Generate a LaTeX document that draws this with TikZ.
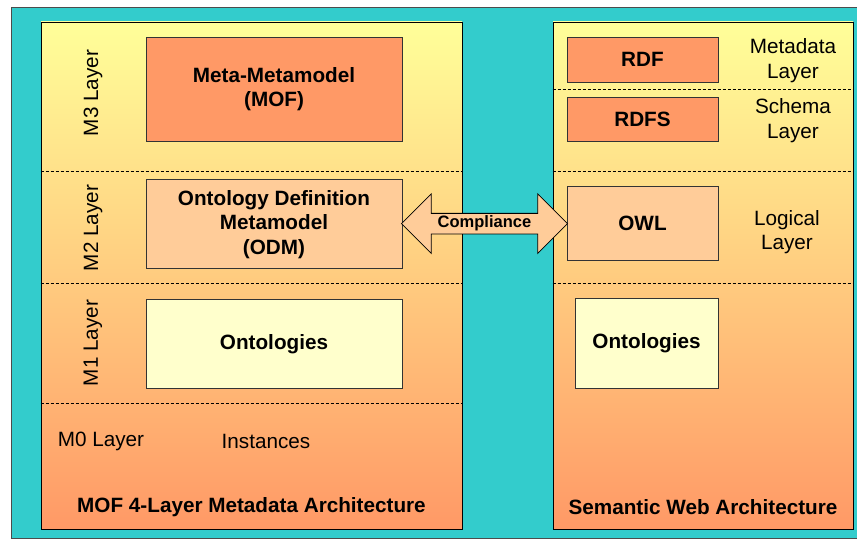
\documentclass[tikz,border=0pt]{standalone}
\usepackage{fontspec}
\setmainfont{Liberation Sans}
\usepackage{xcolor}
\usepackage{tikz}
\usetikzlibrary{shapes.arrows, positioning, calc}
\definecolor{bgteal}{RGB}{51,204,204}
\definecolor{panetop}{RGB}{255,255,153}
\definecolor{panebot}{RGB}{255,153,102}
\definecolor{boxorange}{RGB}{255,153,102}
\definecolor{boxpeach}{RGB}{255,204,153}
\definecolor{boxcream}{RGB}{255,255,204}
\tikzset{
  panel/.style   ={rectangle, draw=black, line width=0.8pt, top color=panetop,
                   bottom color=panebot, inner sep=0pt},
  block/.style   ={rectangle, draw=black!80, line width=0.8pt, align=center,
                   inner sep=0pt, font=\fontsize{20.7}{24.5}\selectfont\bfseries},
  layertxt/.style={font=\fontsize{20.7}{24.5}\selectfont, align=center, inner sep=0pt},
  title/.style   ={font=\fontsize{20.7}{24.5}\selectfont\bfseries, inner sep=0pt},
  sep/.style     ={line width=0.8pt, dash pattern=on 3pt off 2pt},
  comply/.style  ={double arrow, draw=black, line width=0.8pt, fill=boxpeach,
                   font=\fontsize{16.5}{18}\selectfont\bfseries, inner sep=2.2pt,
                   double arrow head extend=19.5pt, double arrow tip angle=90,
                   minimum height=166pt},
}

\begin{document}
\begin{tikzpicture}[x=1pt, y=-1pt]

  \useasboundingbox (0,0) rectangle (857,540);
  \fill[white] (0,0) rectangle (857,540);
  \draw[fill=bgteal, draw=black!70, line width=0.8pt] (11,7) rectangle (870,538);

  % the two panels
  \node[panel, minimum width=421pt, minimum height=507pt] (mof) at (251.5,275.5) {};
  \node[panel, minimum width=300pt, minimum height=507pt] (sw)  at (703,275.5) {};

  % layer separators
  \draw[sep] (mof.west |- 0,171) -- (mof.east |- 0,171);
  \draw[sep] (mof.west |- 0,283) -- (mof.east |- 0,283);
  \draw[sep] (mof.west |- 0,403) -- (mof.east |- 0,403);
  \draw[sep] (sw.west |- 0,89)   -- (sw.east |- 0,89);
  \draw[sep] (sw.west |- 0,171)  -- (sw.east |- 0,171);
  \draw[sep] (sw.west |- 0,283)  -- (sw.east |- 0,283);

  % MOF side
  \node[block, fill=boxorange, minimum width=256pt, minimum height=104pt] (meta) at (274,89)
       {Meta-Metamodel\\(MOF)};
  \node[block, fill=boxpeach, minimum width=256pt, minimum height=89pt, below=38pt of meta] (odm)
       {Ontology Definition\\Metamodel\\(ODM)};
  \node[block, fill=boxcream, minimum width=256pt, minimum height=89pt, below=30pt of odm] (ontl)
       {Ontologies};

  \node[layertxt, rotate=90] (m3) at (93,93)  {M3 Layer};
  \node[layertxt, rotate=90] (m2) at (93,228) {M2 Layer};
  \node[layertxt, rotate=90] (m1) at (93,343) {M1 Layer};
  \node[layertxt] (m0)  at (101,441) {M0 Layer};
  \node[layertxt] (ins) at (266,441) {Instances};
  \node[title] (moft) at (251.5,507.5) {MOF 4-Layer Metadata Architecture};

  % Semantic Web side
  \node[block, fill=boxorange, minimum width=151pt, minimum height=45pt] (rdf)  at (642.5,59.5) {RDF};
  \node[block, fill=boxorange, minimum width=151pt, minimum height=44pt, below=15pt of rdf] (rdfs) {RDFS};
  \node[block, fill=boxpeach,  minimum width=151pt, minimum height=74pt] (owl)  at (642.5,223) {OWL};
  \node[block, fill=boxcream,  minimum width=143pt, minimum height=90pt] (ontr) at (646.5,343) {Ontologies};

  \node[layertxt] (mdl) at (793,60.5)  {Metadata\\Layer};
  \node[layertxt] (scl) at (793,120.5) {Schema\\Layer};
  \node[layertxt] (lgl) at (787,232)   {Logical\\Layer};
  \node[title] (swt) at (703,507.5) {Semantic Web Architecture};

  % compliance between ODM and OWL
  \node[comply] (comp) at ($(odm.east)!0.5!(owl.west)$) {Compliance};

\end{tikzpicture}
\end{document}
